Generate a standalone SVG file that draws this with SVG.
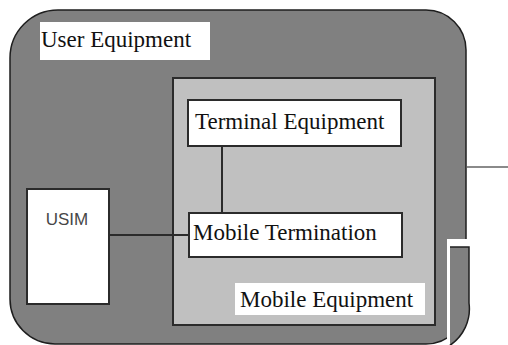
<svg xmlns="http://www.w3.org/2000/svg" width="508" height="345" viewBox="0 0 508 345">
  <style>
    .label { font-size: 23px; fill: #111; }
    .sans { font-size: 17px; fill: #474747; }
    .box { fill: #ffffff; stroke: #2b2b2b; stroke-width: 2; }
    .link { fill: none; stroke: #2b2b2b; stroke-width: 2; }
  </style>

  <rect x="0" y="0" width="508" height="345" fill="#ffffff"/>

  <!-- User Equipment: outer rounded container -->
  <g id="user-equipment">
    <path d="M 58 10 H 426 A 40 40 0 0 1 466 50 V 304 A 40 40 0 0 1 426 344 H 55 A 45 45 0 0 1 10 299 V 58 A 48 48 0 0 1 58 10 Z"
          fill="#808080" stroke="#1e1e1e" stroke-width="1.5"/>
    <!-- gap that splits off the lower right section -->
    <rect x="447" y="239" width="30" height="110" fill="#ffffff"/>
    <path d="M 450 247 H 469 V 303 A 44 44 0 0 1 449 346 H 450 Z" fill="#808080"/>
    <path d="M 450 247 H 469 V 303 A 44 44 0 0 1 449 346" fill="none" stroke="#1e1e1e" stroke-width="1.5"/>
    <rect x="40" y="22" width="170" height="38" fill="#ffffff"/>
    <text class="label" x="41" y="47" font-family="'Liberation Serif', 'DejaVu Serif', serif">User Equipment</text>
  </g>

  <!-- Mobile Equipment container -->
  <g id="mobile-equipment">
    <rect x="173" y="78" width="262" height="247" fill="#c0c0c0" stroke="#2b2b2b" stroke-width="2"/>
    <rect x="235" y="283" width="190" height="32" fill="#ffffff"/>
    <text class="label" x="240" y="307" font-family="'Liberation Serif', 'DejaVu Serif', serif">Mobile Equipment</text>
  </g>

  <!-- Connectors -->
  <g id="connectors">
    <line class="link" x1="222" y1="146" x2="222" y2="213"/>
    <line class="link" x1="109" y1="235" x2="189" y2="235"/>
    <line x1="467" y1="167" x2="508" y2="167" stroke="#8a8a8a" stroke-width="2"/>
  </g>

  <g id="terminal-equipment">
    <rect class="box" x="188" y="100" width="213" height="46"/>
    <text class="label" x="195" y="129" font-family="'Liberation Serif', 'DejaVu Serif', serif">Terminal Equipment</text>
  </g>

  <g id="mobile-termination">
    <rect class="box" x="189" y="213" width="213" height="44"/>
    <text class="label" x="193" y="240" font-family="'Liberation Serif', 'DejaVu Serif', serif">Mobile Termination</text>
  </g>

  <g id="usim">
    <rect class="box" x="27" y="189" width="82" height="115"/>
    <text class="sans" x="67" y="225" text-anchor="middle" font-family="'Liberation Sans', Arial, sans-serif">USIM</text>
  </g>
</svg>
